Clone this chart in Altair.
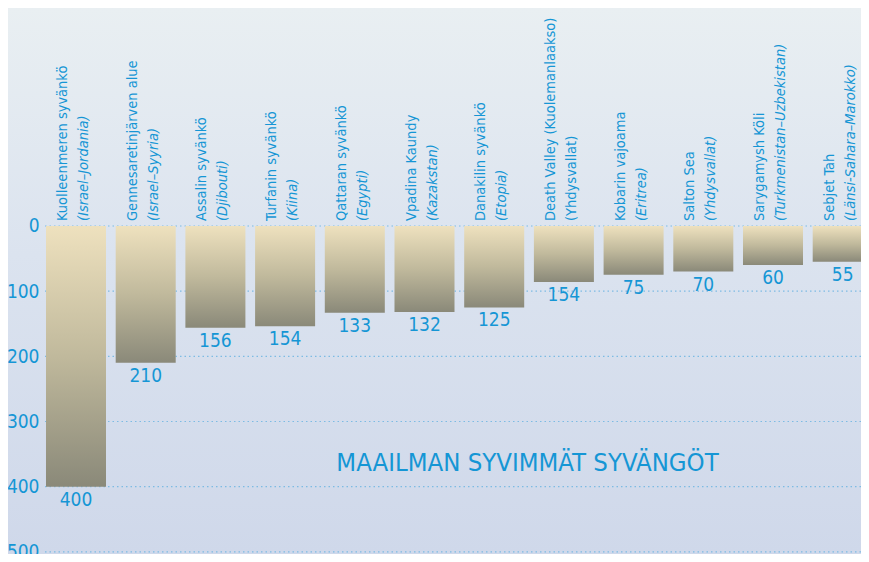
import altair as alt
import pandas as pd

names = ["Kuolleenmeren syvänkö", "Gennesaretinjärven alue", "Assalin syvänkö",
         "Turfanin syvänkö", "Qattaran syvänkö", "Vpadina Kaundy", "Danakilin syvänkö",
         "Death Valley (Kuolemanlaakso)", "Kobarin vajoama", "Salton Sea",
         "Sarygamysh Köli", "Sebjet Tah"]
countries = ["(Israel–Jordania)", "(Israel–Syyria)", "(Djibouti)", "(Kiina)", "(Egypti)",
             "(Kazakstan)", "(Etopia)", "(Yhdysvallat)", "(Eritrea)", "(Yhdysvallat)",
             "(Turkmenistan–Uzbekistan)", "(Länsi-Sahara–Marokko)"]
country_italic = [True, True, True, True, True, True, True, False, True, True, True, True]
depths = [400, 210, 156, 154, 133, 132, 125, 86, 75, 70, 60, 55]
value_labels = ["400", "210", "156", "154", "133", "132", "125", "154", "75", "70", "60", "55"]
y_ticks = [0, 100, 200, 300, 400, 500]
title_text = "MAAILMAN SYVIMMÄT SYVÄNGÖT"

df = pd.DataFrame({"name": names, "country": countries, "italic": country_italic,
                   "depth": depths, "label": value_labels})
ticks_df = pd.DataFrame({"v": y_ticks})

FONT = "'DejaVu Sans Condensed', sans-serif"
BLUE = "#1596d5"

W, H = 819, 546
xscale = alt.Scale(domain=names, range=[-0.85, 835.55], paddingInner=0.139, paddingOuter=0.0695)
yscale = alt.Scale(domain=[-334.5, 503.3], reverse=True, nice=False, zero=False)

X = alt.X("name:N", sort=None, scale=xscale, axis=None)

base = alt.Chart(df)

bg = alt.Chart(pd.DataFrame({"a": [0]})).mark_rect(
    color=alt.LinearGradient(gradient="linear", x1=0, y1=0, x2=0, y2=1,
                             stops=[alt.GradientStop(color="#e9eff2", offset=0),
                                    alt.GradientStop(color="#dbe3ef", offset=0.45),
                                    alt.GradientStop(color="#cfd8ea", offset=1)])
).encode(x=alt.value(-34), x2=alt.value(W), y=alt.value(0), y2=alt.value(H))

yaxis = alt.Axis(values=y_ticks, title=None, domain=False, ticks=False,
                 labelFont=FONT, labelFontSize=19, labelColor=BLUE,
                 labelPadding=3, labelBaseline="middle", grid=False, zindex=1)

grid = alt.Chart(ticks_df).mark_rule(color="#7dbbe3", strokeDash=[1.5, 3], strokeWidth=1.2).encode(
    y=alt.Y("v:Q", scale=yscale, axis=yaxis))

bars = base.transform_calculate(zero="0").mark_rect(
    clip=True,
    color=alt.LinearGradient(gradient="linear", x1=0, y1=0, x2=0, y2=1,
                             stops=[alt.GradientStop(color="#eee1be", offset=0),
                                    alt.GradientStop(color="#c0b99c", offset=0.5),
                                    alt.GradientStop(color="#8a8979", offset=1)])
).encode(
    x=X,
    y=alt.Y("zero:Q", scale=yscale, axis=yaxis),
    y2="depth:Q",
)

vals = base.mark_text(font=FONT, fontSize=19, color=BLUE, baseline="top", dy=4).encode(
    x=X, y=alt.Y("depth:Q", scale=yscale, axis=yaxis), text="label:N")

name_txt = base.transform_calculate(zero="0").mark_text(
    font=FONT, fontSize=14.5, color=BLUE, angle=270, align="left", baseline="middle",
    dx=5, dy=-13).encode(x=X, y=alt.Y("zero:Q", scale=yscale, axis=yaxis), text="name:N")

country_it = base.transform_filter("datum.italic").transform_calculate(zero="0").mark_text(
    font=FONT, fontSize=14.5, fontStyle="italic", color=BLUE, angle=270, align="left",
    baseline="middle", dx=5, dy=8).encode(x=X, y=alt.Y("zero:Q", scale=yscale, axis=yaxis), text="country:N")

country_up = base.transform_filter("!datum.italic").transform_calculate(zero="0").mark_text(
    font=FONT, fontSize=14.5, color=BLUE, angle=270, align="left",
    baseline="middle", dx=5, dy=8).encode(x=X, y=alt.Y("zero:Q", scale=yscale, axis=yaxis), text="country:N")

title = alt.Chart(pd.DataFrame({"t": [title_text]})).mark_text(
    font=FONT, fontSize=25.5, color=BLUE, align="center", baseline="middle"
).encode(x=alt.value(485.5), y=alt.value(455), text="t:N")

chart = alt.layer(bg, grid, bars, vals, name_txt, country_it, country_up, title).resolve_axis(
    y="shared").properties(
    width=W, height=H, autosize=alt.AutoSizeParams(type="none"),
    padding={"left": 34, "top": 0, "right": 0, "bottom": 0},
).configure_view(stroke=None).configure(background="#e9eff2")

chart.save("out.html", embed_options={"renderer": "svg", "actions": False})
